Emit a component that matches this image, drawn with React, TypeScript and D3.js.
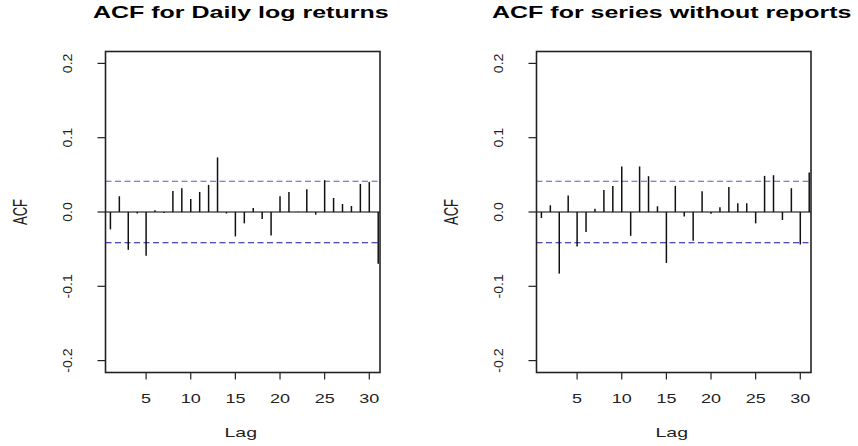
import React from "react";
import * as d3 from "d3";

const lags = d3.range(1, 32);
const acfDaily = [
  -0.0234, 0.0212, -0.0509, -0.002, -0.059, 0.0023, -0.0015, 0.0284, 0.032, 0.0176,
  0.027, 0.0365, 0.0734, -0.002, -0.0329, -0.0153, 0.0054, -0.0095, -0.0315, 0.0212,
  0.027, 0.0005, 0.0306, -0.0036, 0.0428, 0.0189, 0.0108, 0.0081, 0.0378, 0.0405, -0.0698,
];
const acfNoReports = [
  -0.0081, 0.009, -0.0829, 0.0221, -0.0464, -0.027, 0.0045, 0.0297, 0.0351, 0.0613,
  -0.032, 0.0613, 0.0482, 0.0077, -0.0685, 0.0351, -0.0059, -0.0387, 0.0279, -0.0023,
  0.0063, 0.0338, 0.0117, 0.0117, -0.0153, 0.0486, 0.0495, -0.0108, 0.032, -0.0437, 0.0532,
];
const confBound = 0.0414;
const xTicks = [5, 10, 15, 20, 25, 30];
const yTicks = [-0.2, -0.1, 0, 0.1, 0.2];
const titles = ["ACF for Daily log returns", "ACF for series without reports"];

const FONT = "'Liberation Sans', Arial, Helvetica, sans-serif";

function Panel({ x0, title, values }: { x0: number; title: string; values: number[] }) {
  const top = 51.5;
  const bottom = 372.5;
  const width = 274.5;
  const x = d3.scaleLinear().domain([0.45, 31.2]).range([x0, x0 + width]);
  const y = d3.scaleLinear().domain([-0.216, 0.216]).range([bottom, top]);
  const cx = x0 + width / 2;
  const fmt = (v: number) => d3.format(".1f")(v).replace("\u2212", "-");
  return (
    <g>
      <g transform={`translate(${cx - 2},17.5) scale(1.47,1)`}>
        <text x={0} y={0} textAnchor="middle" fontFamily={FONT} fontWeight="bold" fontSize={17} fill="#000">
          {title}
        </text>
      </g>
      {/* dashed confidence lines */}
      <line x1={x0} x2={x0 + width} y1={y(confBound)} y2={y(confBound)} stroke="#5a5ac4" strokeWidth={1.2} strokeDasharray="6 3.5" />
      <line x1={x0} x2={x0 + width} y1={y(-confBound)} y2={y(-confBound)} stroke="#1414a0" strokeWidth={1.2} strokeDasharray="6 3.5" />
      {/* zero line */}
      <line x1={x0} x2={x0 + width} y1={y(0)} y2={y(0)} stroke="#000" strokeWidth={1.1} />
      {/* bars */}
      {values.map((v, i) => (
        <line key={i} x1={x(lags[i])} x2={x(lags[i])} y1={y(0)} y2={y(v)} stroke="#111" strokeWidth={1.5} />
      ))}
      {/* box */}
      <rect x={x0} y={top} width={width} height={bottom - top} fill="none" stroke="#222" strokeWidth={1.6} />
      {/* x axis */}
      {xTicks.map((t) => (
        <g key={t}>
          <line x1={x(t)} x2={x(t)} y1={bottom} y2={bottom + 7} stroke="#222" strokeWidth={1.2} />
          <g transform={`translate(${x(t)},402.5) scale(1.5,1)`}>
            <text x={0} y={0} textAnchor="middle" fontFamily={FONT} fontSize={12} fill="#222">
              {t}
            </text>
          </g>
        </g>
      ))}
      <g transform={`translate(${cx - 2},437) scale(1.5,1)`}>
        <text x={0} y={0} textAnchor="middle" fontFamily={FONT} fontSize={13} fill="#222">
          Lag
        </text>
      </g>
      {/* y axis */}
      {yTicks.map((t) => (
        <g key={t}>
          <line x1={x0 - 8} x2={x0} y1={y(t)} y2={y(t)} stroke="#222" strokeWidth={1.2} />
          <g transform={`translate(${x0 - 38},${y(t)}) rotate(-90) scale(1.05,1)`}>
            <text x={0} y={0} textAnchor="middle" dy="0.36em" fontFamily={FONT} fontSize={13.5} fill="#222">
              {fmt(t)}
            </text>
          </g>
        </g>
      ))}
      <g transform={`translate(${x0 - 86},${y(0)}) scale(1.5,1) rotate(-90)`}>
        <text x={0} y={0} textAnchor="middle" dy="0.36em" fontFamily={FONT} fontSize={13} fill="#222">
          ACF
        </text>
      </g>
    </g>
  );
}

export default function App() {
  return (
    <svg
      width={858}
      height={446}
      style={{ position: "absolute", left: 0, top: 0, background: "#fff" }}
    >
      <rect x={0} y={0} width={858} height={446} fill="#fff" />
      <Panel x0={105.5} title={titles[0]} values={acfDaily} />
      <Panel x0={536.5} title={titles[1]} values={acfNoReports} />
    </svg>
  );
}
